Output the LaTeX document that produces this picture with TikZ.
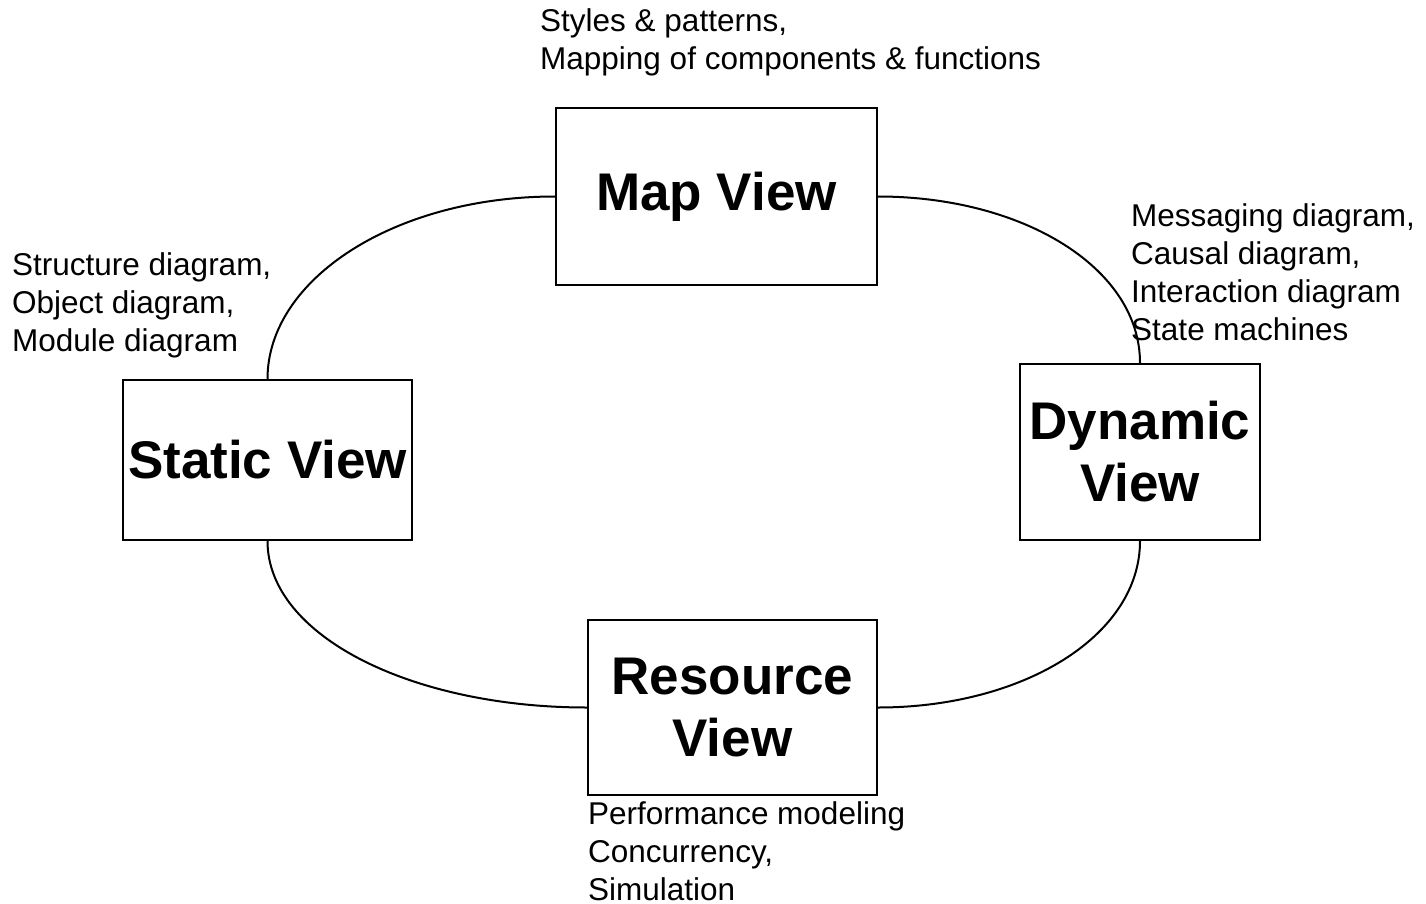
\documentclass[tikz,border=0pt]{standalone}
\usepackage{fontspec}
\setmainfont{Liberation Sans}
\begin{document}
\begin{tikzpicture}[x=1pt,y=-1pt,
  viewbox/.style={draw,line width=2pt,inner sep=0pt,align=center,
    font=\fontsize{53}{62}\selectfont\bfseries},
  lbl/.style={anchor=base west,align=left,inner sep=0pt,
    font=\fontsize{31.5}{38}\selectfont},
  link/.style={line width=2pt}]
\useasboundingbox (0,0) rectangle (1426,904);
\node[viewbox,minimum width=321pt,minimum height=177pt] (map) at (716.5,196.5) {Map View};
\node[viewbox,minimum width=289pt,minimum height=160pt] (static) at (267.5,460) {Static View};
\node[viewbox,minimum width=240pt,minimum height=176pt] (dyn) at (1140,452) {Dynamic\\View};
\node[viewbox,minimum width=289pt,minimum height=175pt] (res) at (732.5,707.5) {Resource\\View};
\node[lbl] (lmap) at (540,70) {Styles \& patterns,\\Mapping of components \& functions};
\node[lbl] (lstatic) at (12,351) {Structure diagram,\\Object diagram,\\Module diagram};
\node[lbl] (ldyn) at (1131,340) {Messaging diagram,\\Causal diagram,\\Interaction diagram\\State machines};
\node[lbl] (lres) at (588,900) {Performance modeling\\Concurrency,\\Simulation};
\coordinate (mapL) at (map.west);
\coordinate (mapR) at (map.east);
\coordinate (stT) at (static.north);
\coordinate (stB) at (static.south);
\coordinate (dyT) at (dyn.north);
\coordinate (dyB) at (dyn.south);
\coordinate (reL) at (res.west);
\coordinate (reR) at (res.east);
\draw[link] (mapL) .. controls +(-160,0) and +(0,-100) .. (stT);
\draw[link] (mapR) .. controls +(145,0) and +(0,-95) .. (dyT);
\draw[link] (stB) .. controls +(0,95) and +(-175,0) .. (reL);
\draw[link] (dyB) .. controls +(0,95) and +(145,0) .. (reR);
\end{tikzpicture}
\end{document}
